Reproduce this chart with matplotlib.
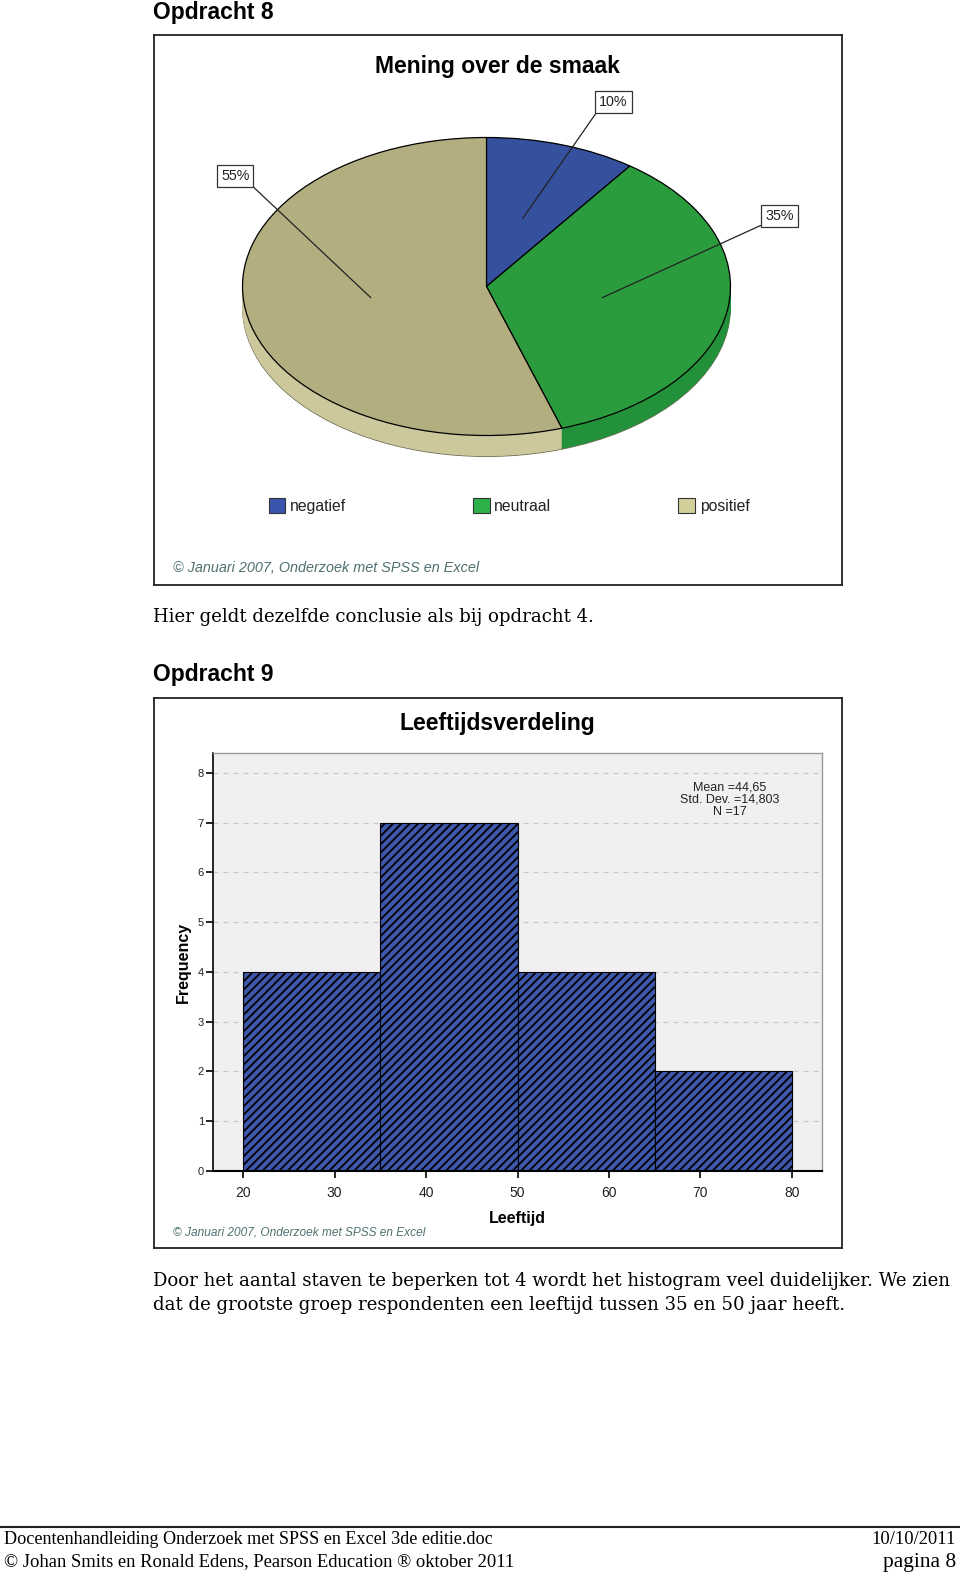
import numpy as np
import matplotlib.pyplot as plt
from matplotlib.patches import Patch
from matplotlib.lines import Line2D

plt.rcParams['font.family'] = ['Liberation Sans', 'DejaVu Sans']
plt.rcParams['hatch.linewidth'] = 1.3

# gegevens opdracht 8 (taartdiagram)
smaak_labels = ["negatief", "neutraal", "positief"]
smaak_pct = [10, 35, 55]
smaak_kleur = ["#35509c", "#2a9c3e", "#b3ae80"]
smaak_zijkant = ["#2b4283", "#23903a", "#cdc89c"]
smaak_legenda = ["#3a55ad", "#2db24a", "#d3cf9b"]
label_pos = [(0.52, 1.24), (1.20, 0.47), (-1.03, 0.74)]   # plek van de %-labels
label_rel = [(0.0, 0.0), (0.0, 0.0), (1.0, 0.0)]

# gegevens opdracht 9 (histogram)
leeftijd_randen = [20, 35, 50, 65, 80]
leeftijd_freq = [4, 7, 4, 2]
x_ticks = [20, 30, 40, 50, 60, 70, 80]
y_ticks = [0, 1, 2, 3, 4, 5, 6, 7, 8]
stat_namen = ["Mean", "Std. Dev.", "N"]
stat_waarden = ["44,65", "14,803", "17"]

W, H = 960, 1577
fig = plt.figure(figsize=(W / 100, H / 100), dpi=100)


def box(x0, y0, x1, y1):
    # pixel-rechthoek (van boven gemeten) naar figuurcoordinaten
    return [x0 / W, 1 - y1 / H, (x1 - x0) / W, (y1 - y0) / H]


def ftext(x, y, s, **kw):
    fig.text(x / W, 1 - y / H, s, **kw)


copy_txt = "\u00a9 Januari 2007, Onderzoek met SPSS en Excel"
serif = ['Liberation Serif', 'DejaVu Serif']
body = ['DejaVu Serif']

# ---------------- Opdracht 8 ----------------
ftext(153, 13, "Opdracht 8", fontsize=16.5, weight='bold', va='center')

ax1 = fig.add_axes(box(154, 35, 842, 585))
cx, cy, rx, ry = 486.5, 286.5, 244, 149
diepte = 21 / ry

# zijkant van de 3D-taart: lagen onder de bovenkant
ax1.pie(smaak_pct, colors=smaak_zijkant, startangle=90, counterclock=False,
        center=(0, -diepte), wedgeprops=dict(linewidth=0.6, edgecolor='#6b6a50'))
for d in np.linspace(diepte, 0, 30)[1:-1]:
    ax1.pie(smaak_pct, colors=smaak_zijkant, startangle=90, counterclock=False,
            center=(0, -d), wedgeprops=dict(linewidth=0))
wedges, _ = ax1.pie(smaak_pct, colors=smaak_kleur, startangle=90, counterclock=False,
                    wedgeprops=dict(edgecolor='black', linewidth=0.9))

cum = 0
for i, p in enumerate(smaak_pct):
    theta = np.deg2rad(90 - (cum + p / 2) * 3.6)
    cum += p
    r = 0.48
    ax1.annotate(f"{p}%", xy=(r * np.cos(theta), r * np.sin(theta)), xytext=label_pos[i],
                 ha='center', va='center', fontsize=10.3, color='#222222',
                 bbox=dict(boxstyle='square,pad=0.28', fc='white', ec='#333333', lw=0.9),
                 arrowprops=dict(arrowstyle='-', color='#222222', lw=0.9,
                                 relpos=label_rel[i], shrinkA=0, shrinkB=0))

ax1.set_aspect('auto')
ax1.set_xlim((154 - cx) / rx, (842 - cx) / rx)
ax1.set_ylim((cy - 585) / ry, (cy - 35) / ry)
ax1.set_frame_on(True)
ax1.set_xticks([])
ax1.set_yticks([])
for s in ax1.spines.values():
    s.set_color('#222222')
    s.set_linewidth(1.3)

ax1.text(0.4985, 0.943, "Mening over de smaak", transform=ax1.transAxes,
         ha='center', va='center', fontsize=16.5, weight='bold')
handles = [Patch(facecolor=c, edgecolor='#333333', linewidth=0.8) for c in smaak_legenda]
ax1.legend(handles, smaak_labels, loc='center', bbox_to_anchor=(0.516, 0.1436), ncol=3,
           frameon=False, fontsize=11.3, handlelength=1.05, handleheight=1.1,
           handletextpad=0.3, columnspacing=8.1, labelcolor='#222222')
ax1.text(0.0276, 0.031, copy_txt, transform=ax1.transAxes, va='center',
         fontsize=10.4, style='italic', color='#4f7070')

ftext(153, 617, "Hier geldt dezelfde conclusie als bij opdracht 4.", fontsize=13.05,
      family=body, va='center')

# ---------------- Opdracht 9 ----------------
ftext(153, 675, "Opdracht 9", fontsize=16.5, weight='bold', va='center')

axf = fig.add_axes(box(154, 698, 842, 1248))
axf.set_xticks([])
axf.set_yticks([])
for s in axf.spines.values():
    s.set_color('#222222')
    s.set_linewidth(1.3)
axf.text(0.4985, 0.953, "Leeftijdsverdeling", transform=axf.transAxes,
         ha='center', va='center', fontsize=16.5, weight='bold')
axf.text(0.0276, 0.029, copy_txt, transform=axf.transAxes, va='center',
         fontsize=8.6, style='italic', color='#4f7070')

ax2 = fig.add_axes(box(213, 753, 822, 1171))
ax2.set_facecolor('#f0f0f0')
breedte = np.diff(leeftijd_randen)
ax2.bar(leeftijd_randen[:-1], leeftijd_freq, width=breedte, align='edge',
        facecolor='#3d57ad', edgecolor='black', linewidth=0.8, hatch='////')
ax2.set_xlim(16.72, 83.28)
ax2.set_ylim(0, 8.40)
ax2.set_xticks(x_ticks)
ax2.set_yticks(y_ticks)
ax2.set_axisbelow(True)
ax2.yaxis.grid(True, linestyle=(0, (4, 4)), color='#c8c8c8', linewidth=0.9)
ax2.tick_params(axis='x', labelsize=10, length=5, width=1.2, pad=5.5, labelcolor='#222222')
ax2.tick_params(axis='y', labelsize=8, length=5, width=1.2, pad=1.5, labelcolor='#222222')
ax2.spines['left'].set_linewidth(1.2)
ax2.spines['bottom'].set_linewidth(1.5)
for k in ['top', 'right']:
    ax2.spines[k].set_color('#9a9a9a')
    ax2.spines[k].set_linewidth(1.0)
ax2.set_xlabel("Leeftijd", fontsize=11.5, weight='bold', labelpad=8)
ax2.set_ylabel("Frequency", fontsize=11.5, weight='bold', labelpad=5)

stat_txt = "\n".join(f"{n} ={w}" for n, w in zip(stat_namen, stat_waarden))
ax2.text(0.849, 0.8876, stat_txt, transform=ax2.transAxes, ha='center', va='center',
         fontsize=9, linespacing=1.05, color='#222222')

ftext(153, 1281, "Door het aantal staven te beperken tot 4 wordt het histogram veel duidelijker. We zien",
      fontsize=13.05, family=body, va='center')
ftext(153, 1305, "dat de grootste groep respondenten een leeftijd tussen 35 en 50 jaar heeft.",
      fontsize=13.05, family=body, va='center')

# ---------------- voettekst ----------------
fig.add_artist(Line2D([0, 1], [1 - 1527 / H] * 2, transform=fig.transFigure,
                      color='#222222', linewidth=1.5))
ftext(4, 1539, "Docentenhandleiding Onderzoek met SPSS en Excel 3de editie.doc",
      fontsize=13.1, family=serif, va='center')
ftext(4, 1562, "\u00a9 Johan Smits en Ronald Edens, Pearson Education \u00ae oktober 2011",
      fontsize=13.4, family=serif, va='center')
ftext(956, 1539, "10/10/2011", fontsize=13.3, family=serif, va='center', ha='right')
ftext(956, 1562, "pagina 8", fontsize=15.5, family=serif, va='center', ha='right')

fig.savefig("out.png", dpi=100)
